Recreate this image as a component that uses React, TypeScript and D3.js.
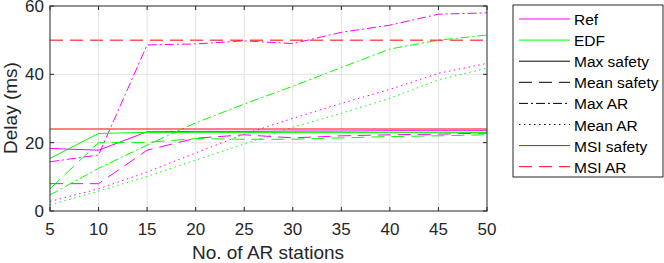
import React from 'react';
import * as d3 from 'd3';

// number of AR stations
const stations = [5, 10, 15, 20, 25, 30, 35, 40, 45, 50];

// delay values (ms)
const refMaxSafety = [18.3, 17.8, 23.2, 23.3, 23.3, 23.4, 23.4, 23.5, 23.5, 23.5];
const edfMaxSafety = [15.4, 22.7, 23.0, 23.0, 23.0, 23.0, 23.0, 23.0, 23.0, 23.0];
const refMeanSafety = [8.0, 8.0, 17.8, 21.3, 22.3, 21.4, 22.0, 22.3, 22.5, 22.8];
const edfMeanSafety = [6.5, 20.0, 20.1, 21.2, 21.0, 21.0, 21.4, 21.8, 22.0, 22.3];
const refMaxAR = [14.4, 16.4, 48.6, 48.9, 49.8, 49.0, 52.3, 54.4, 57.6, 58.0];
const edfMaxAR = [4.7, 12.5, 19.3, 25.8, 31.3, 36.5, 42.0, 47.4, 50.0, 51.5];
const refMeanAR = [2.8, 6.5, 11.4, 17.0, 22.5, 27.1, 31.5, 35.6, 40.3, 43.2];
const edfMeanAR = [1.8, 5.8, 10.1, 14.9, 19.6, 24.5, 28.6, 33.0, 38.4, 41.8];
const msiSafety = [24, 24, 24, 24, 24, 24, 24, 24, 24, 24];
const msiAR = [50, 50, 50, 50, 50, 50, 50, 50, 50, 50];

const xTicks = [5, 10, 15, 20, 25, 30, 35, 40, 45, 50];
const yTicks = [0, 20, 40, 60];

const legendNames = ['Ref', 'EDF', 'Max safety', 'Mean safety', 'Max AR', 'Mean AR', 'MSI safety', 'MSI AR'];

const MAGENTA = '#ff00ff';
const GREEN = '#00ff00';
const RED = '#ff0000';
const BLACK = '#000000';

const SOLID = 'none';
const DASHED = '13,7';
const DASHDOT = '9,3,2,3';
const DOTTED = '1.5,3.5';

const series = [
  { values: refMaxSafety, color: MAGENTA, dash: SOLID },
  { values: refMeanSafety, color: MAGENTA, dash: DASHED },
  { values: refMaxAR, color: MAGENTA, dash: DASHDOT },
  { values: refMeanAR, color: MAGENTA, dash: DOTTED },
  { values: edfMaxSafety, color: GREEN, dash: SOLID },
  { values: edfMeanSafety, color: GREEN, dash: DASHED },
  { values: edfMaxAR, color: GREEN, dash: DASHDOT },
  { values: edfMeanAR, color: GREEN, dash: DOTTED },
  { values: msiSafety, color: RED, dash: SOLID },
  { values: msiAR, color: RED, dash: DASHED },
];

const legendStyles = [
  { color: MAGENTA, dash: SOLID },
  { color: GREEN, dash: SOLID },
  { color: BLACK, dash: SOLID },
  { color: BLACK, dash: DASHED },
  { color: BLACK, dash: DASHDOT },
  { color: BLACK, dash: DOTTED },
  { color: RED, dash: SOLID },
  { color: RED, dash: DASHED },
];

const W = 664;
const H = 263;
const left = 50;
const right = 487;
const top = 6;
const bottom = 211;
const font = '"Liberation Sans", Arial, sans-serif';
const axisColor = '#262626';

const App = () => {
  const x = d3.scaleLinear().domain([5, 50]).range([left, right]);
  const y = d3.scaleLinear().domain([0, 60]).range([bottom, top]);

  const line = d3.line<number>()
    .x((d, i) => x(stations[i]))
    .y((d) => y(d));

  const legX = 513;
  const legY = 5;
  const legW = 150;
  const legH = 172;
  const rowH = 21.1;

  return (
    <svg width={W} height={H} style={{ position: 'absolute', left: 0, top: 0, background: '#fff' }}>
      {/* grid */}
      <g stroke="#e3e3e3" strokeWidth={1}>
        {xTicks.slice(1, -1).map((t) => (
          <line key={'gx' + t} x1={x(t)} x2={x(t)} y1={top} y2={bottom} />
        ))}
        {yTicks.slice(1, -1).map((t) => (
          <line key={'gy' + t} x1={left} x2={right} y1={y(t)} y2={y(t)} />
        ))}
      </g>

      {/* data */}
      <g fill="none" strokeWidth={1}>
        {series.map((s, i) => (
          <path key={i} d={line(s.values) || ''} stroke={s.color} strokeDasharray={s.dash} />
        ))}
      </g>

      {/* box and ticks */}
      <g stroke={axisColor} strokeWidth={1} fill="none">
        <rect x={left} y={top} width={right - left} height={bottom - top} />
        {xTicks.map((t) => (
          <g key={'tx' + t}>
            <line x1={x(t)} x2={x(t)} y1={bottom} y2={bottom - 4} />
            <line x1={x(t)} x2={x(t)} y1={top} y2={top + 4} />
          </g>
        ))}
        {yTicks.map((t) => (
          <g key={'ty' + t}>
            <line x1={left} x2={left + 4} y1={y(t)} y2={y(t)} />
            <line x1={right} x2={right - 4} y1={y(t)} y2={y(t)} />
          </g>
        ))}
      </g>

      {/* tick labels */}
      <g fontFamily={font} fontSize={17} fill={axisColor}>
        {xTicks.map((t) => (
          <text key={'lx' + t} x={x(t)} y={235} textAnchor="middle">{t}</text>
        ))}
        {yTicks.map((t) => (
          <text key={'ly' + t} x={left - 6} y={y(t) + 6} textAnchor="end">{t}</text>
        ))}
        <text x={268} y={259} textAnchor="middle" fontSize={19}>No. of AR stations</text>
        <text transform={`translate(17, 108) rotate(-90)`} textAnchor="middle" fontSize={19}>Delay (ms)</text>
      </g>

      {/* legend */}
      <g>
        <rect x={legX} y={legY} width={legW} height={legH} fill="#fff" stroke={axisColor} strokeWidth={1} />
        {legendNames.map((name, i) => {
          const cy = legY + 14 + i * rowH;
          return (
            <g key={name}>
              <line x1={519} x2={570} y1={cy} y2={cy} stroke={legendStyles[i].color} strokeWidth={1} strokeDasharray={legendStyles[i].dash} />
              <text x={574} y={cy + 6} fontFamily={font} fontSize={15.5} fill="#000">{name}</text>
            </g>
          );
        })}
      </g>
    </svg>
  );
};

export default App;
